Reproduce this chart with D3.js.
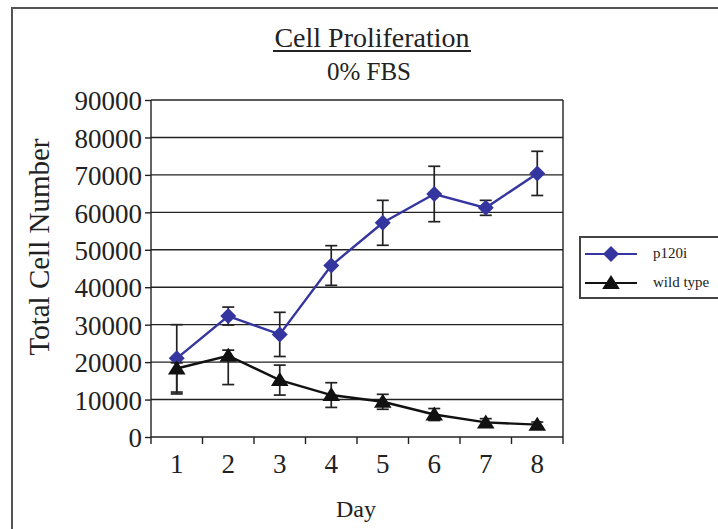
<!DOCTYPE html>
<html>
<head>
<meta charset="utf-8">
<script src="https://cdnjs.cloudflare.com/ajax/libs/d3/7.8.5/d3.min.js"></script>
<style>
  body { margin: 0; background: #fff; }
  svg { display: block; font-family: "Liberation Serif", "Times New Roman", serif; }
</style>
</head>
<body>
<svg id="canvas"></svg>
<script>
var days = [1, 2, 3, 4, 5, 6, 7, 8];
var p120iValues = [21000, 32300, 27400, 45800, 57200, 64900, 61200, 70400];
var p120iUpper = [9000, 2400, 5900, 5300, 6000, 7400, 2000, 5900];
var p120iLower = [9000, 2400, 5900, 5300, 6000, 7400, 2000, 5900];
var wildValues = [18300, 21700, 15200, 11200, 9400, 6000, 3900, 3300];
var wildUpper = [1500, 1500, 4000, 3300, 2000, 1600, 1000, 700];
var wildLower = [6800, 7700, 4000, 3300, 2000, 1600, 1000, 700];
var yTicks = [0, 10000, 20000, 30000, 40000, 50000, 60000, 70000, 80000, 90000];

var series = [
  { name: 'p120i', values: p120iValues, upper: p120iUpper, lower: p120iLower, color: '#35359f', marker: 'diamond' },
  { name: 'wild type', values: wildValues, upper: wildUpper, lower: wildLower, color: '#111', marker: 'triangle' }
];

var W = 718, H = 529;
var plot = { left: 151, right: 563, top: 100, bottom: 437 };
var ink = '#222';

var svg = d3.select('#canvas').attr('width', W).attr('height', H);

// outer frame (runs off the page on the right and bottom)
svg.append('path')
  .attr('d', 'M' + (W + 5) + ',8 H12 V' + (H + 5))
  .attr('fill', 'none').attr('stroke', '#555').attr('stroke-width', 2);

var x = d3.scaleBand().domain(days).range([plot.left, plot.right]);
var y = d3.scaleLinear().domain([0, 90000]).range([plot.bottom, plot.top]);

// grid lines
svg.append('g').selectAll('line').data(yTicks.slice(1)).enter().append('line')
  .attr('x1', plot.left).attr('x2', plot.right)
  .attr('y1', function (d) { return y(d); }).attr('y2', function (d) { return y(d); })
  .attr('stroke', ink).attr('stroke-width', 1.4);
svg.append('line')
  .attr('x1', plot.right).attr('x2', plot.right).attr('y1', plot.top).attr('y2', plot.bottom)
  .attr('stroke', ink).attr('stroke-width', 1.4);

// y axis
var yAxis = svg.append('g')
  .attr('transform', 'translate(' + plot.left + ',0)')
  .call(d3.axisLeft(y).tickValues(yTicks).tickSize(6).tickPadding(3).tickFormat(d3.format('d')));
yAxis.attr('font-family', null).attr('font-size', null);
yAxis.selectAll('text').attr('font-size', 27).attr('fill', ink).attr('dy', '0.36em');
yAxis.selectAll('line, path').attr('stroke', ink).attr('stroke-width', 1.4);
yAxis.select('.domain').attr('d', 'M0,' + plot.top + 'V' + plot.bottom);

// x axis: ticks sit between categories
var xAxis = svg.append('g').attr('transform', 'translate(0,' + plot.bottom + ')');
xAxis.append('line').attr('x1', plot.left).attr('x2', plot.right)
  .attr('stroke', ink).attr('stroke-width', 1.4);
var edges = days.map(function (d) { return x(d); }).concat([plot.right]);
xAxis.selectAll('.tk').data(edges).enter().append('line')
  .attr('x1', function (d) { return d; }).attr('x2', function (d) { return d; })
  .attr('y1', 0).attr('y2', 7).attr('stroke', ink).attr('stroke-width', 1.4);
xAxis.selectAll('text').data(days).enter().append('text')
  .attr('x', function (d) { return x(d) + x.bandwidth() / 2; })
  .attr('y', 36).attr('text-anchor', 'middle')
  .attr('font-size', 27).attr('fill', ink)
  .text(function (d) { return d; });

// titles
svg.append('text').attr('x', 372).attr('y', 47).attr('text-anchor', 'middle')
  .attr('font-size', 28).attr('fill', ink).text('Cell Proliferation');
svg.append('line').attr('x1', 273).attr('x2', 471).attr('y1', 51).attr('y2', 51)
  .attr('stroke', ink).attr('stroke-width', 2);
svg.append('text').attr('x', 369).attr('y', 80).attr('text-anchor', 'middle')
  .attr('font-size', 25).attr('fill', ink).text('0% FBS');
svg.append('text').attr('x', 356).attr('y', 517).attr('text-anchor', 'middle')
  .attr('font-size', 24).attr('fill', ink).text('Day');
svg.append('text')
  .attr('transform', 'translate(49,247) rotate(-90)')
  .attr('text-anchor', 'middle').attr('font-size', 29).attr('fill', ink)
  .text('Total Cell Number');

function markerPath(type, s) {
  if (type === 'diamond') return 'M0,' + (-s) + 'L' + s + ',0L0,' + s + 'L' + (-s) + ',0Z';
  return 'M0,' + (-s) + 'L' + (s * 1.1) + ',' + (s * 0.75) + 'L' + (-s * 1.1) + ',' + (s * 0.75) + 'Z';
}

var cx = function (i) { return x(days[i]) + x.bandwidth() / 2; };

series.forEach(function (s) {
  var g = svg.append('g');
  // error bars
  s.values.forEach(function (v, i) {
    var px = cx(i);
    var hi = v + s.upper[i], lo = v - s.lower[i];
    g.append('line').attr('x1', px).attr('x2', px).attr('y1', y(hi)).attr('y2', y(lo))
      .attr('stroke', ink).attr('stroke-width', 1.7);
    [hi, lo].forEach(function (t) {
      g.append('line').attr('x1', px - 6).attr('x2', px + 6).attr('y1', y(t)).attr('y2', y(t))
        .attr('stroke', ink).attr('stroke-width', 1.7);
    });
  });
  var line = d3.line().x(function (d, i) { return cx(i); }).y(function (d) { return y(d); });
  g.append('path').datum(s.values).attr('d', line)
    .attr('fill', 'none').attr('stroke', s.color).attr('stroke-width', 2.4);
  g.selectAll('.m').data(s.values).enter().append('path')
    .attr('transform', function (d, i) { return 'translate(' + cx(i) + ',' + y(d) + ')'; })
    .attr('d', markerPath(s.marker, 8))
    .attr('fill', s.color);
});

// legend
var legend = svg.append('g');
legend.append('path').attr('d', 'M' + (W + 5) + ',237 H580 V298 H' + (W + 5))
  .attr('fill', 'none').attr('stroke', '#444').attr('stroke-width', 2);
series.forEach(function (s, i) {
  var ly = 254 + i * 29;
  legend.append('line').attr('x1', 585).attr('x2', 637).attr('y1', ly).attr('y2', ly)
    .attr('stroke', s.color).attr('stroke-width', 2);
  legend.append('path').attr('transform', 'translate(611,' + ly + ')')
    .attr('d', markerPath(s.marker, 8)).attr('fill', s.color);
  legend.append('text').attr('x', 653).attr('y', ly + 4).attr('font-size', 15)
    .attr('fill', ink).text(s.name);
});
</script>
</body>
</html>
